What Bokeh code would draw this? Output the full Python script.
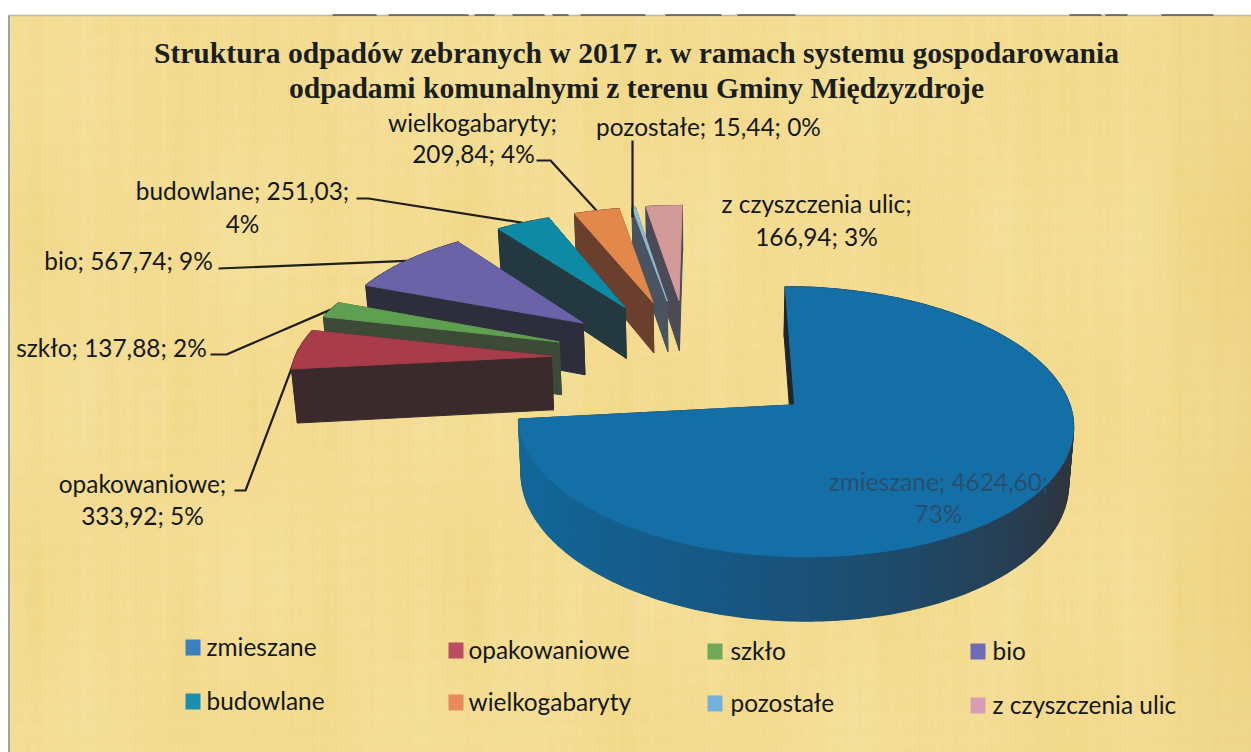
import numpy as np
from bokeh.plotting import figure
from bokeh.models import Range1d
from bokeh.core.properties import value
from bokeh.embed import file_html
from bokeh.resources import INLINE

# ---- data
categories = ["zmieszane", "opakowaniowe", "szkło", "bio", "budowlane",
              "wielkogabaryty", "pozostałe", "z czyszczenia ulic"]
values = [4624.60, 333.92, 137.88, 567.74, 251.03, 209.84, 15.44, 166.94]
percents = [73, 5, 2, 9, 4, 4, 0, 3]
top_colors = ["#136FA6", "#A83C4A", "#5E9F50", "#6A63A8", "#0E8AA4", "#E2884B", "#8FBBD4", "#D39A9A"]
wall_colors = ["#1B2F40", "#3A2A2C", "#3C4A37", "#2E2D3C", "#24383F", "#6A3F2E", "#4A5460", "#4C4A55"]
legend_colors = ["#3A80BE", "#B84D63", "#6FAA55", "#6E6BB4", "#1A8FB0", "#E8895A", "#74B0DC", "#D89CB4"]
title_lines = ["Struktura odpadów zebranych w 2017 r. w ramach systemu gospodarowania",
               "odpadami komunalnymi z terenu Gminy Międzyzdroje"]

# ---- projection of the exploded 3D pie (page pixel space)
R = 275.0          # radius in px at reference depth
DEPTH = 56.0       # wall height
EXPL = 0.524       # explosion as a share of the radius
VX, VY = 710.0, -651.0
YA = 1055.0
TAU = 0.1259
CX, CZ = -23.0 / R, -0.348
H = 0.986
SMALL_R = 0.975    # outer radius of the pulled-out slices

total = sum(values)
angles = np.cumsum([0.0] + [v / total * 360.0 for v in values])


def project(theta, r, mid):
    t, m = np.radians(theta), np.radians(mid)
    X = CX + EXPL * np.sin(m) + r * np.sin(t)
    Z = CZ - EXPL * np.cos(m) - r * np.cos(t)
    g = 1.0 / (1.0 - TAU * Z)
    return VX + R * X * g, VY + YA * g, g


def bottom(x, y, g):
    return VX + (x - VX) * H, y + DEPTH * g


def outer(i):
    return 1.0 if i == 0 else SMALL_R


p = figure(width=1251, height=752, output_backend="svg", toolbar_location=None,
           x_range=Range1d(0, 1251), y_range=Range1d(752, 0),
           min_border=0, outline_line_color=None, background_fill_color="#FFFFFF",
           border_fill_color="#FFFFFF")
p.axis.visible = False
p.grid.visible = False

# ---- papyrus background
p.quad(left=[8], right=[1251], top=[15], bottom=[752], fill_color="#F3DC92", line_color=None)
w, h = 622, 369
xs = np.linspace(0, 1243, w)[None, :]
ys = np.linspace(0, 737, h)[:, None]
streak = np.zeros((h, w))
for lam, amp, ph, ly in [(7.3, .16, 0.3, 97), (11.9, .22, 1.1, 173), (19.7, .25, 2.3, 131),
                         (37.1, .30, 0.7, 251), (71.3, .30, 1.9, 211), (149.0, .35, 4.1, 420)]:
    streak += amp * np.sin(2 * np.pi * xs / lam + ph) * (0.6 + 0.4 * np.sin(2 * np.pi * ys / ly + lam))
weave = 0.10 * np.sin(2 * np.pi * ys / 9.1) + 0.14 * np.sin(2 * np.pi * ys / 23.7 + xs / 90.0)
patch = 0.5 * np.sin(2 * np.pi * xs / 410 + 1.0) * np.sin(2 * np.pi * ys / 330 + 0.4)
edge = np.clip((xs - 1120) / 125.0, 0, 1) * 1.0
s = streak + weave + patch
img = np.zeros((h, w), dtype=np.uint32)
view = img.view(dtype=np.uint8).reshape((h, w, 4))
view[..., 0] = np.clip(244 + 1.5 * s - 5 * edge, 0, 255)
view[..., 1] = np.clip(221 + 3.5 * s - 8 * edge, 0, 255)
view[..., 2] = np.clip(147 + 8 * s - 12 * edge, 0, 255)
view[..., 3] = 255
p.image_rgba(image=[img], x=8, y=15, dw=1243, dh=737)

# frame of the scanned page
p.segment(x0=[8.5], y0=[15], x1=[8.5], y1=[752], line_color="#A3A39A", line_width=2)
p.segment(x0=[8], y0=[15], x1=[1251], y1=[15], line_color="#B9B9A8", line_width=1.5)
dash_x0 = [332, 388, 474, 512, 552, 580, 665, 737, 1069, 1105, 1161]
dash_x1 = [376, 468, 494, 544, 568, 645, 721, 795, 1101, 1127, 1213]
p.segment(x0=dash_x0, y0=[14.5] * len(dash_x0), x1=dash_x1, y1=[14.5] * len(dash_x0),
          line_color="#55554F", line_width=1.5)

# ---- leader lines
mids = [(angles[i] + angles[i + 1]) / 2 for i in range(len(values))]
leaders = [(1, (234, 490), (245, 490)), (2, (210, 354), (226, 354)), (3, (218, 268), (218, 268)),
           (4, (356, 198), (368, 198)), (5, (536, 160), (550, 160))]
for i, a, b in leaders:
    ex, ey, _ = project(mids[i], SMALL_R, mids[i])
    p.line([a[0], b[0], ex], [a[1], b[1], ey], line_color="#1E1E1C", line_width=2.2)

# ---- slices, back to front


def top_poly(i):
    th = np.linspace(angles[i], angles[i + 1], max(3, int(angles[i + 1] - angles[i]) * 2))
    ox, oy, og = project(th, outer(i), mids[i])
    ax, ay, ag = project(angles[i], 0.0, mids[i])
    return list(ox) + [ax], list(oy) + [ay]


def radial_wall(i, theta):
    ox, oy, og = project(theta, outer(i), mids[i])
    ax, ay, ag = project(theta, 0.0, mids[i])
    bax, bay = bottom(ax, ay, ag)
    box, boy = bottom(ox, oy, og)
    return [ox, ax, bax, box], [oy, ay, bay, boy]


def blue_wall_color(t):
    stops_t = [70, 115, 160, 195, 240, 265]
    r = np.interp(t, stops_t, [0x2E, 0x2E, 0x20, 0x17, 0x13, 0x13])
    g = np.interp(t, stops_t, [0x36, 0x36, 0x4A, 0x58, 0x66, 0x68])
    b = np.interp(t, stops_t, [0x40, 0x40, 0x68, 0x84, 0x98, 0x9A])
    return "#%02X%02X%02X" % (int(r), int(g), int(b))


for i in range(len(values) - 1, -1, -1):
    # hidden back radial wall
    wx, wy = radial_wall(i, angles[i + 1])
    p.patch(wx, wy, fill_color=wall_colors[i], line_color=wall_colors[i])
    # outer curved wall in small facets
    th = np.linspace(angles[i], angles[i + 1], max(3, int(angles[i + 1] - angles[i]) + 2))
    qx, qy, qc = [], [], []
    for t0, t1 in zip(th[:-1], th[1:]):
        x0, y0, g0 = project(t0, outer(i), mids[i])
        x1, y1, g1 = project(t1, outer(i), mids[i])
        bx0, by0 = bottom(x0, y0, g0)
        bx1, by1 = bottom(x1, y1, g1)
        qx.append([x0, x1, bx1, bx0])
        qy.append([y0, y1, by1, by0])
        qc.append(blue_wall_color((t0 + t1) / 2) if i == 0 else wall_colors[i])
    p.patches(qx, qy, fill_color=qc, line_color=qc, line_width=1.5)
    # visible radial wall
    wx, wy = radial_wall(i, angles[i])
    p.patch(wx, wy, fill_color=wall_colors[i] if i else "#20242B",
            line_color=wall_colors[i] if i else "#20242B")
    # top face
    tx, ty = top_poly(i)
    p.patch(tx, ty, fill_color=top_colors[i], line_color=top_colors[i], line_width=1)

# leader over the thin slice
ex, ey, _ = project(mids[6], 0.86, mids[6])
p.line([632, 632], [140, ey], line_color="#1E1E1C", line_width=2.2)

# ---- title
FONT = value("Lato")
p.text(x=[636, 636], y=[52, 87], text=title_lines, text_align="center", text_baseline="middle",
       text_font=value("Liberation Serif"), text_font_style="bold", text_font_size=value("29.6px"),
       text_color="#1A1F1E")

# ---- data labels


def fmt(i):
    return f"{values[i]:.2f}".replace(".", ",")


label_rows = [
    (472, 122, f"{categories[5]};"), (473, 153, f"{fmt(5)}; {percents[5]}%"),
    (708, 126, f"{categories[6]}; {fmt(6)}; {percents[6]}%"),
    (816, 203, f"{categories[7]};"), (816, 236, f"{fmt(7)}; {percents[7]}%"),
    (242, 190, f"{categories[4]}; {fmt(4)};"), (242, 223, f"{percents[4]}%"),
    (128, 260, f"{categories[3]}; {fmt(3)}; {percents[3]}%"),
    (111, 347, f"{categories[2]}; {fmt(2)}; {percents[2]}%"),
    (142, 483, f"{categories[1]};"), (142, 515, f"{fmt(1)}; {percents[1]}%"),
]
p.text(x=[r[0] for r in label_rows], y=[r[1] for r in label_rows], text=[r[2] for r in label_rows],
       text_align="center", text_baseline="middle", text_font=FONT, text_font_size=value("24.4px"),
       text_color="#14181A")
p.text(x=[938, 938], y=[481, 513], text=[f"{categories[0]}; {fmt(0)};", f"{percents[0]}%"],
       text_align="center", text_baseline="middle", text_font=FONT, text_font_size=value("24.4px"),
       text_color="#27506F")

# ---- legend
leg_x = [185, 448, 707, 970, 185, 448, 707, 970]
leg_y = [647, 650, 651, 651, 701, 702, 703, 705]
leg_tx = [206, 468, 730, 992, 206, 468, 730, 992]
p.quad(left=leg_x, right=[x + 15 for x in leg_x], top=[y - 8 for y in leg_y],
       bottom=[y + 8 for y in leg_y], fill_color=legend_colors, line_color=None)
p.text(x=leg_tx, y=[y - 1 for y in leg_y], text=categories, text_align="left", text_baseline="middle",
       text_font=FONT, text_font_size=value("24.4px"), text_color="#14181A")

open("out.html", "w").write(file_html(p, INLINE))
